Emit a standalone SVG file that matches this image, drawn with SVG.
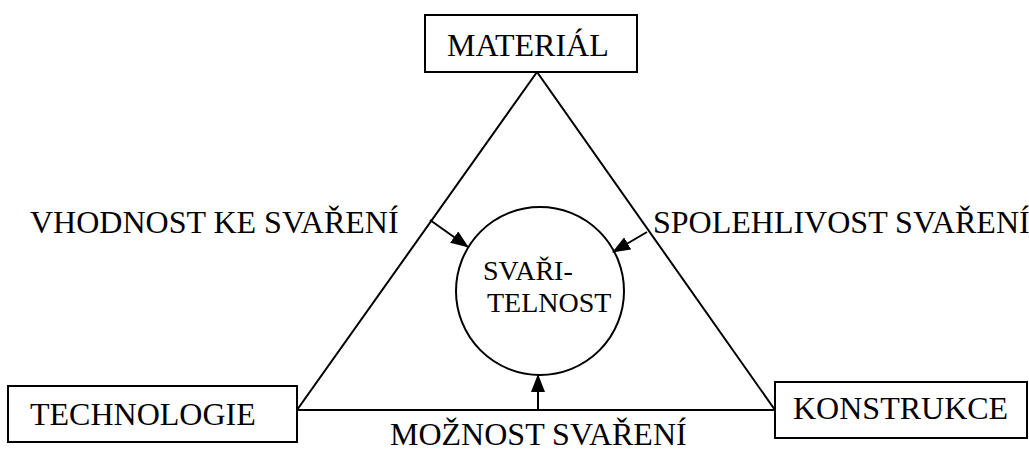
<svg xmlns="http://www.w3.org/2000/svg" width="1029" height="452" viewBox="0 0 1029 452">
<defs>
<style>
.box{fill:#fff;stroke:#000;stroke-width:2}
.ln{fill:none;stroke:#000;stroke-width:2}
.t{font-family:"Liberation Serif","Times New Roman",serif;font-size:32px;fill:#000}
.tc{font-family:"Liberation Serif","Times New Roman",serif;font-size:28px;fill:#000}
</style>
<marker id="ah" markerWidth="18" markerHeight="14" refX="17" refY="7" orient="auto" markerUnits="userSpaceOnUse">
<path d="M0,0 L18,7 L0,14 Z" fill="#000"/>
</marker>
</defs>
<g id="connectors">
<polygon class="ln" points="537,72 297,410 775,410"/>
<line class="ln" x1="430" y1="220" x2="468" y2="247" marker-end="url(#ah)"/>
<line class="ln" x1="647" y1="232" x2="613" y2="252" marker-end="url(#ah)"/>
<line class="ln" x1="538" y1="410" x2="538" y2="375" marker-end="url(#ah)"/>
</g>
<g id="material">
<rect class="box" x="425" y="15" width="212" height="57"/>
<text class="t" x="447" y="56">MATERIÁL</text>
</g>
<g id="technologie">
<rect class="box" x="8" y="386" width="289" height="56"/>
<text class="t" x="30" y="425">TECHNOLOGIE</text>
</g>
<g id="konstrukce">
<rect class="box" x="775" y="382" width="252" height="56"/>
<text class="t" x="793" y="419">KONSTRUKCE</text>
</g>
<g id="svaritelnost">
<circle class="ln" cx="540" cy="291" r="84"/>
<text class="tc" x="483" y="280">SVAŘI-</text>
<text class="tc" x="487" y="312">TELNOST</text>
</g>
<g id="labels">
<text class="t" x="30" y="233">VHODNOST KE SVAŘENÍ</text>
<text class="t" x="653" y="233">SPOLEHLIVOST SVAŘENÍ</text>
<text class="t" x="390" y="445">MOŽNOST SVAŘENÍ</text>
</g>
</svg>
